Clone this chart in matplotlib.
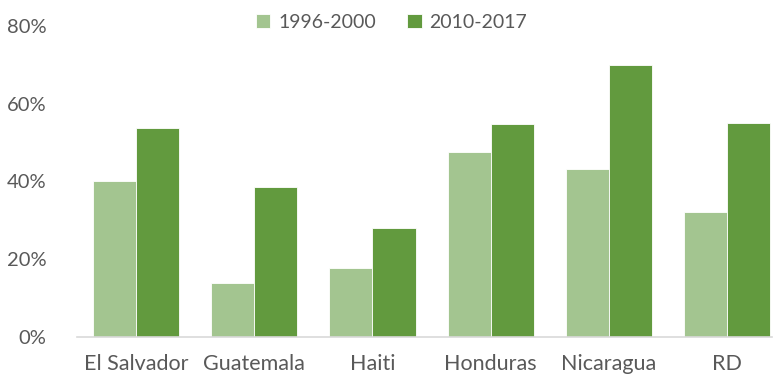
import matplotlib.pyplot as plt
import numpy as np

plt.rcParams['font.family'] = ['Lato', 'DejaVu Sans']

countries = ['El Salvador', 'Guatemala', 'Haiti', 'Honduras', 'Nicaragua', 'RD']
share_1996_2000 = [40.1, 14.0, 17.7, 47.6, 43.2, 32.1]
share_2010_2017 = [53.7, 38.5, 28.0, 54.8, 69.9, 55.0]

light = '#A3C590'
dark = '#629A3E'
text_col = '#595959'

fig = plt.figure(figsize=(7.75, 3.79), dpi=100)
ax = fig.add_axes([77 / 775, 42 / 379, 695 / 775, 311 / 379])

x = np.arange(len(countries))
w = 0.365
ax.bar(x - w / 2, share_1996_2000, w, color=light, edgecolor='white', linewidth=0.6, label='1996-2000')
ax.bar(x + w / 2, share_2010_2017, w, color=dark, edgecolor='white', linewidth=0.6, label='2010-2017')

ax.set_xlim(-0.5, 5.38)
ax.set_ylim(0, 80)
ax.set_yticks([0, 20, 40, 60, 80])
ax.set_yticklabels([f'{v}%' for v in [0, 20, 40, 60, 80]])
ax.set_xticks(x)
ax.set_xticklabels(countries)

for s in ['top', 'right', 'left']:
    ax.spines[s].set_visible(False)
ax.spines['bottom'].set_color('#D9D9D9')
ax.spines['bottom'].set_linewidth(1.2)
ax.tick_params(axis='both', length=0, colors=text_col)
ax.tick_params(axis='y', pad=22, labelsize=14.5)
ax.tick_params(axis='x', pad=12, labelsize=15.5)

fig.legend(loc='upper center', bbox_to_anchor=(0.505, 1.01), ncol=2, frameon=False,
           fontsize=14, handlelength=0.75, handleheight=0.75, handletextpad=0.4,
           columnspacing=1.6, labelcolor=text_col)

plt.savefig('out.png', dpi=100)
